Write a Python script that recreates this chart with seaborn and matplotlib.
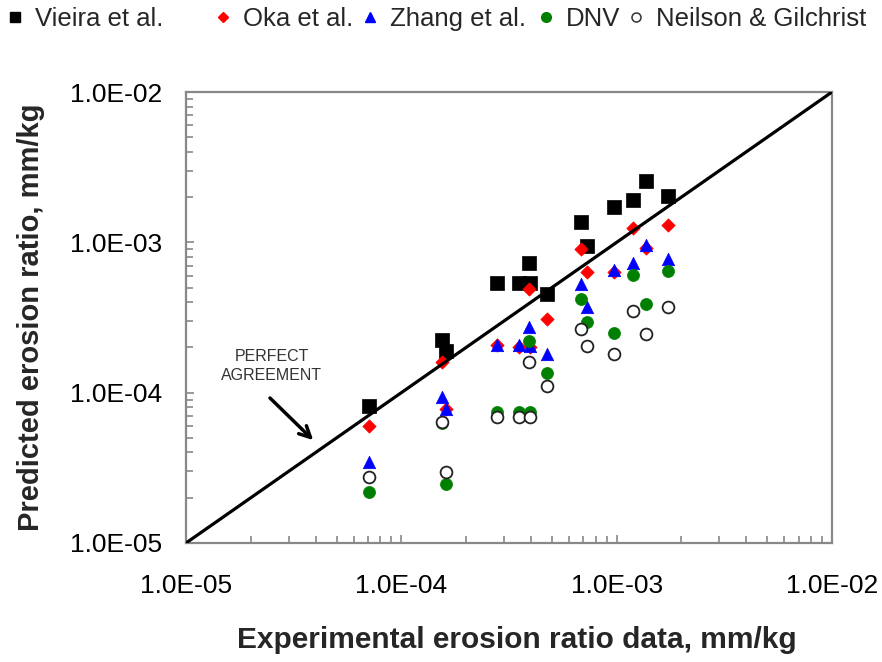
import matplotlib
matplotlib.use("Agg")
import matplotlib.pyplot as plt
import seaborn as sns
import pandas as pd
from matplotlib.ticker import FuncFormatter, LogLocator, NullFormatter
from matplotlib.lines import Line2D

# ---- data ----
experimental = [7.1e-5, 1.55e-4, 1.62e-4, 2.77e-4, 3.53e-4, 3.90e-4, 3.97e-4,
                4.77e-4, 6.86e-4, 7.30e-4, 9.75e-4, 1.19e-3, 1.37e-3, 1.73e-3]
vieira = [8.1e-5, 2.25e-4, 1.9e-4, 5.4e-4, 5.4e-4, 7.24e-4, 5.4e-4,
          4.5e-4, 1.36e-3, 9.4e-4, 1.71e-3, 1.9e-3, 2.55e-3, 2.03e-3]
oka = [6.0e-5, 1.61e-4, 7.8e-5, 2.09e-4, 2.0e-4, 4.86e-4, 2.0e-4,
       3.11e-4, 8.98e-4, 6.3e-4, 6.3e-4, 1.24e-3, 9.2e-4, 1.3e-3]
zhang = [3.47e-5, 9.3e-5, 7.8e-5, 2.09e-4, 2.09e-4, 2.75e-4, 2.05e-4,
         1.82e-4, 5.25e-4, 3.74e-4, 6.5e-4, 7.24e-4, 9.55e-4, 7.7e-4]
dnv = [2.2e-5, 6.3e-5, 2.47e-5, 7.47e-5, 7.4e-5, 2.19e-4, 7.4e-5,
       1.36e-4, 4.23e-4, 2.93e-4, 2.51e-4, 6.03e-4, 3.86e-4, 6.4e-4]
neilson = [2.75e-5, 6.4e-5, 2.97e-5, 6.9e-5, 6.9e-5, 1.61e-4, 6.9e-5,
           1.1e-4, 2.67e-4, 2.03e-4, 1.82e-4, 3.47e-4, 2.47e-4, 3.69e-4]
perfect = [1e-5, 1e-2]
series_names = ["Vieira et al.", "Oka et al.", "Zhang et al.", "DNV", "Neilson & Gilchrist"]

sns.set_style("white")
plt.rcParams['font.family'] = ['Liberation Sans', 'DejaVu Sans']

fig = plt.figure(figsize=(8.82, 6.62), dpi=100)
ax = fig.add_axes([186/882, 1-543/662, 646/882, 451/662])

styles = [
    (vieira, dict(marker='s', color='black', edgecolor='black', s=88, linewidth=0.5)),
    (oka, dict(marker='D', color='red', edgecolor='red', s=46, linewidth=0.5)),
    (zhang, dict(marker='^', color='blue', edgecolor='blue', s=80, linewidth=0.5)),
    (dnv, dict(marker='o', color='green', edgecolor='green', s=75, linewidth=0.5)),
    (neilson, dict(marker='o', color='white', edgecolor='#222222', s=72, linewidth=1.3)),
]
for vals, kw in styles:
    df = pd.DataFrame({"exp": experimental, "pred": vals})
    sns.scatterplot(data=df, x="exp", y="pred", ax=ax, zorder=2, legend=False, **kw)

sns.lineplot(x=perfect, y=perfect, ax=ax, color='black', linewidth=2.3, zorder=3)

ax.set_xscale('log')
ax.set_yscale('log')
ax.set_xlim(1e-5, 1e-2)
ax.set_ylim(1e-5, 1e-2)

fmt = FuncFormatter(lambda v, p: f"{v:.1E}")
for axis in (ax.xaxis, ax.yaxis):
    axis.set_major_locator(LogLocator(base=10, numticks=10))
    axis.set_major_formatter(fmt)
    axis.set_minor_locator(LogLocator(base=10, subs=range(2, 10), numticks=10))
    axis.set_minor_formatter(NullFormatter())

ax.tick_params(axis='both', which='both', direction='in', color='#888888', width=1.2)
ax.tick_params(axis='both', which='major', length=6, labelsize=19, labelcolor='black')
ax.tick_params(axis='both', which='minor', length=5)
ax.tick_params(axis='x', which='major', pad=22)
ax.tick_params(axis='y', which='major', pad=17)
ax.tick_params(axis='both', which='both', top=False, right=False, bottom=True, left=True)

for sp in ax.spines.values():
    sp.set_visible(True)
    sp.set_color('#888888')
    sp.set_linewidth(1.6)

ax.set_xlabel("Experimental erosion ratio data, mm/kg", fontsize=21.5, fontweight='bold')
ax.set_ylabel("Predicted erosion ratio, mm/kg", fontsize=21, fontweight='bold')
ax.xaxis.set_label_coords(0.512, -0.183)
ax.yaxis.set_label_coords(-0.218, 0.5)

ax.text(0.133, 0.393, "PERFECT\nAGREEMENT", transform=ax.transAxes,
        ha='center', va='center', fontsize=11.5, linespacing=1.35, color='#333333')
ax.annotate("", xy=(0.197, 0.228), xytext=(0.130, 0.3215),
            xycoords='axes fraction', textcoords='axes fraction',
            arrowprops=dict(arrowstyle='->', color='black', lw=2.5,
                            shrinkA=0, shrinkB=0, mutation_scale=20))

# legend entries at top
handles = [
    Line2D([], [], marker='s', ls='none', color='black', markersize=7),
    Line2D([], [], marker='D', ls='none', color='red', markersize=5.5),
    Line2D([], [], marker='^', ls='none', color='blue', markersize=7.5),
    Line2D([], [], marker='o', ls='none', color='green', markersize=7),
    Line2D([], [], marker='o', ls='none', markerfacecolor='white',
           markeredgecolor='#333333', markeredgewidth=1.1, markersize=6.5),
]
marker_x = [15, 223, 370, 546, 636]
for h, name, mx in zip(handles, series_names, marker_x):
    fig.legend(handles=[h], labels=[name], loc='center left',
               bbox_to_anchor=((mx - 10) / 882, 1 - 19 / 662),
               frameon=False, fontsize=18.5, handlelength=0.8, handletextpad=0.35,
               borderpad=0, borderaxespad=0)

fig.savefig("out.png", dpi=100)
